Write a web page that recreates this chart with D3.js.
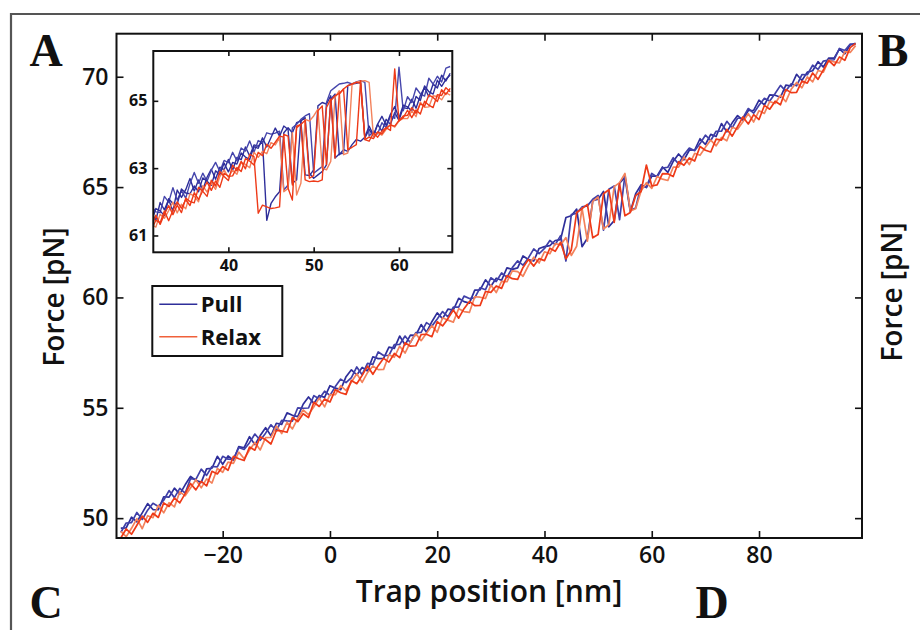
<!DOCTYPE html>
<html>
<head>
<meta charset="utf-8">
<script src="https://cdn.jsdelivr.net/npm/d3@7"></script>
<style>
  body { margin: 0; background: #fff; }
  svg { display: block; }
</style>
</head>
<body>
<script>
// trap positions (nm) for the main traces
const posMain = [
  -39, -38, -37, -36, -35, -34, -33, -32, -31, -30,
  -29, -28, -27, -26, -25, -24, -23, -22, -21, -20,
  -19, -18, -17, -16, -15, -14, -13, -12, -11, -10,
  -9, -8, -7, -6, -5, -4, -3, -2, -1, 0,
  1, 2, 3, 4, 5, 6, 7, 8, 9, 10,
  11, 12, 13, 14, 15, 16, 17, 18, 19, 20,
  21, 22, 23, 24, 25, 26, 27, 28, 29, 30,
  31, 32, 33, 34, 35, 36, 37, 38, 39, 40,
  41, 42, 43, 44, 45, 46, 47, 48, 49, 50,
  51, 52, 53, 54, 55, 56, 57, 58, 59, 60,
  61, 62, 63, 64, 65, 66, 67, 68, 69, 70,
  71, 72, 73, 74, 75, 76, 77, 78, 79, 80,
  81, 82, 83, 84, 85, 86, 87, 88, 89, 90,
  91, 92, 93, 94, 95, 96, 97, 98
];

// force (pN)
const pullA = [
  49.55, 49.56, 50.04, 49.83, 50.24, 50.66, 50.39, 50.38, 50.97, 50.95,
  51.36, 51.09, 51.51, 51.89, 51.71, 51.62, 52.23, 52.26, 52.80, 52.44,
  52.82, 52.63, 53.24, 53.19, 53.69, 53.33, 53.74, 54.10, 53.73, 54.30,
  54.25, 54.77, 54.66, 54.60, 55.16, 55.49, 55.20, 55.56, 55.47, 56.00,
  55.89, 55.82, 56.41, 56.72, 56.49, 56.83, 56.67, 57.31, 57.23, 57.24,
  57.75, 57.69, 58.25, 57.85, 58.29, 58.28, 58.77, 58.42, 58.90, 59.30,
  59.04, 59.47, 59.43, 59.96, 59.81, 59.74, 60.33, 60.34, 60.80, 60.51,
  60.87, 60.78, 61.34, 61.27, 61.34, 61.88, 61.72, 61.65, 62.22, 62.30,
  62.35, 62.58, 62.62, 63.62, 63.70, 64.00, 62.30, 62.68, 64.38, 64.45,
  64.80, 63.20, 63.48, 65.18, 65.45, 63.88, 64.70, 65.10, 64.98, 65.50,
  65.50, 65.91, 65.67, 66.16, 66.50, 66.23, 66.67, 66.68, 67.19, 66.93,
  67.39, 67.29, 67.88, 67.50, 67.91, 68.24, 68.03, 68.47, 68.48, 68.94,
  68.72, 69.18, 69.16, 69.07, 69.62, 69.58, 70.11, 69.83, 70.21, 70.27,
  70.68, 70.44, 70.85, 70.84, 71.26, 71.04, 71.45, 71.51
];
const pullB = [
  49.35, 49.78, 49.80, 50.26, 49.94, 50.36, 50.67, 50.53, 50.81, 51.25,
  50.93, 51.35, 51.13, 51.79, 51.76, 52.22, 51.94, 52.34, 52.32, 52.80,
  52.67, 52.66, 53.20, 53.11, 53.42, 53.81, 53.53, 53.85, 54.23, 53.97,
  54.43, 54.41, 54.40, 55.00, 54.98, 54.99, 55.55, 55.41, 55.75, 55.56,
  55.96, 56.30, 56.14, 56.37, 56.85, 56.50, 57.01, 56.97, 57.53, 57.37,
  57.37, 57.86, 57.87, 58.25, 57.95, 58.41, 58.42, 58.86, 58.70, 59.02,
  59.36, 59.12, 59.56, 59.56, 60.06, 59.95, 59.98, 60.44, 60.35, 60.89,
  60.72, 61.11, 60.91, 61.35, 61.66, 61.46, 61.79, 62.20, 61.98, 62.22,
  62.58, 62.39, 62.80, 61.65, 63.75, 63.82, 64.10, 64.15, 64.45, 64.62,
  63.05, 64.90, 65.05, 63.52, 65.55, 63.95, 64.05, 65.07, 65.00, 65.62,
  65.45, 65.86, 65.90, 66.33, 66.05, 66.46, 66.77, 66.65, 66.97, 67.35,
  67.11, 67.53, 67.53, 67.98, 67.68, 68.12, 68.13, 68.56, 68.35, 68.71,
  69.02, 68.90, 69.24, 69.61, 69.35, 69.68, 69.59, 70.10, 70.09, 70.52,
  70.33, 70.71, 70.75, 70.77, 71.28, 71.19, 71.48, 71.46
];
const relaxA = [
  49.10, 49.51, 49.27, 49.68, 50.09, 49.81, 50.22, 50.03, 50.69, 50.53,
  50.91, 50.69, 51.11, 51.57, 51.28, 51.67, 51.46, 52.12, 52.00, 52.34,
  52.17, 52.80, 52.69, 52.61, 53.22, 53.08, 53.69, 53.55, 53.36, 53.97,
  53.95, 53.89, 54.56, 54.37, 54.73, 54.56, 55.25, 55.06, 55.40, 55.26,
  55.82, 55.68, 55.61, 56.24, 56.09, 56.47, 56.89, 56.52, 56.91, 57.24,
  57.07, 57.46, 57.27, 57.95, 57.79, 57.81, 58.32, 58.33, 58.22, 58.90,
  58.71, 59.04, 59.43, 59.06, 59.49, 59.82, 59.63, 59.64, 60.27, 60.23,
  60.52, 60.41, 60.99, 60.85, 60.82, 61.36, 61.72, 61.42, 61.76, 61.67,
  62.23, 62.09, 62.50, 61.75, 62.15, 63.85, 64.02, 64.22, 62.70, 62.85,
  64.70, 64.88, 63.40, 65.15, 63.70, 63.85, 64.61, 64.80, 66.00, 65.05,
  65.10, 65.61, 65.60, 65.48, 66.15, 65.99, 66.32, 66.18, 66.84, 66.67,
  66.59, 67.17, 67.13, 67.62, 67.31, 67.74, 68.18, 67.86, 68.28, 68.06,
  68.70, 68.53, 68.89, 68.73, 69.42, 69.28, 69.29, 69.80, 69.71, 70.17,
  69.88, 70.31, 70.73, 70.50, 70.90, 70.74, 71.32, 71.51
];
const relaxB = [
  49.40, 49.16, 49.54, 49.98, 49.52, 50.11, 50.02, 50.58, 50.24, 50.70,
  50.51, 51.19, 51.01, 51.37, 51.74, 51.37, 51.78, 51.59, 52.25, 52.08,
  52.54, 52.48, 52.99, 52.69, 53.09, 53.43, 53.09, 53.65, 53.66, 54.17,
  53.83, 54.34, 54.04, 54.52, 54.90, 54.69, 55.05, 55.44, 55.04, 55.60,
  55.59, 56.00, 55.78, 56.17, 56.54, 56.15, 56.59, 56.89, 56.73, 56.74,
  57.40, 57.29, 57.79, 57.48, 57.97, 58.36, 58.04, 58.38, 58.72, 58.42,
  59.08, 58.97, 58.88, 59.49, 59.36, 59.32, 60.03, 60.01, 59.95, 60.56,
  60.22, 60.73, 60.71, 61.20, 61.17, 60.96, 61.44, 61.82, 61.56, 62.07,
  61.98, 62.44, 62.38, 62.71, 61.90, 62.32, 64.05, 62.55, 64.35, 64.55,
  63.10, 63.30, 65.02, 65.20, 65.62, 63.92, 64.02, 64.82, 65.20, 64.94,
  65.48, 65.36, 65.30, 65.90, 65.90, 66.36, 66.02, 66.53, 66.44, 66.80,
  67.13, 66.87, 67.25, 67.10, 67.71, 67.62, 67.96, 68.32, 67.95, 68.46,
  68.34, 68.88, 68.79, 69.16, 68.87, 69.43, 69.74, 69.50, 69.99, 69.77,
  70.28, 70.21, 70.75, 70.67, 70.63, 71.14, 71.10, 71.41
];

// trap positions (nm) for the inset traces
const posInset = [
  31, 31.5, 32, 32.5, 33, 33.5, 34, 34.5, 35, 35.5,
  36, 36.5, 37, 37.5, 38, 38.5, 39, 39.5, 40, 40.5,
  41, 41.5, 42, 42.5, 43, 43.5, 44, 44.5, 45, 45.5,
  46, 46.5, 47, 47.5, 48, 48.5, 49, 49.5, 50, 50.5,
  51, 51.5, 52, 52.5, 53, 53.5, 54, 54.5, 55, 55.5,
  56, 56.5, 57, 57.5, 58, 58.5, 59, 59.5, 60, 60.5,
  61, 61.5, 62, 62.5, 63, 63.5, 64, 64.5, 65, 65.5,
  66
];

// force (pN)
const insetPullA = [
  61.67, 61.45, 61.98, 61.76, 62.07, 61.72, 62.35, 62.13, 62.36, 62.69,
  62.32, 62.65, 62.35, 62.73, 62.97, 62.67, 63.03, 62.95, 63.26, 62.94,
  63.32, 63.25, 63.63, 63.36, 63.69, 63.65, 63.80, 61.45, 61.95, 62.15,
  62.30, 64.05, 64.20, 64.05, 64.35, 64.40, 62.80, 62.78, 62.95, 64.85,
  64.95, 64.90, 65.15, 63.30, 63.42, 63.45, 65.45, 65.50, 65.52, 65.55,
  63.90, 64.15, 63.95, 64.30, 64.10, 64.45, 64.30, 64.65, 64.42, 64.80,
  64.77, 65.05, 64.78, 65.16, 65.39, 65.12, 65.50, 65.38, 65.76, 65.59,
  65.82
];
const insetPullB = [
  61.87, 61.70, 61.68, 62.16, 61.99, 62.42, 62.05, 62.33, 62.11, 62.54,
  62.87, 62.55, 62.85, 62.61, 62.94, 63.17, 62.90, 63.23, 63.16, 63.47,
  63.22, 63.60, 63.51, 63.81, 63.47, 63.82, 63.75, 64.05, 64.01, 64.04,
  64.10, 62.35, 62.50, 64.20, 64.30, 64.45, 64.55, 64.62, 62.85, 62.95,
  63.05, 64.95, 65.30, 65.40, 65.50, 65.52, 65.55, 65.50, 65.56, 65.60,
  65.55, 63.95, 64.10, 64.02, 64.35, 64.20, 64.55, 64.48, 66.00, 64.70,
  65.12, 64.95, 65.38, 65.21, 65.14, 65.67, 65.50, 65.73, 65.56, 65.97,
  66.02
];
const insetPullC = [
  61.42, 61.80, 61.73, 61.59, 62.09, 61.95, 61.93, 62.38, 62.26, 62.24,
  62.47, 62.30, 62.71, 62.61, 62.49, 62.92, 62.80, 63.15, 62.89, 63.17,
  63.12, 63.45, 63.33, 63.26, 63.64, 63.59, 63.90, 63.63, 63.91, 64.19,
  63.95, 64.25, 64.15, 62.55, 62.65, 64.40, 64.50, 62.85, 62.70, 62.80,
  62.90, 63.10, 65.05, 65.20, 63.40, 63.55, 63.50, 63.70, 63.85, 63.80,
  63.92, 64.25, 63.98, 64.31, 64.54, 64.27, 64.60, 64.83, 64.49, 64.87,
  64.82, 64.70, 65.13, 65.01, 65.44, 65.27, 65.20, 65.61, 65.43, 65.64,
  65.77
];
const insetRelaxA = [
  61.27, 61.60, 61.33, 61.63, 61.89, 61.62, 61.90, 61.68, 62.11, 62.01,
  61.97, 62.43, 62.31, 62.16, 62.64, 62.47, 62.90, 62.75, 62.63, 63.09,
  62.92, 63.20, 62.98, 63.41, 63.34, 61.66, 61.90, 61.85, 61.80, 61.82,
  61.85, 64.00, 63.95, 62.50, 64.20, 64.30, 62.65, 62.60, 62.62, 62.60,
  62.65, 64.80, 65.05, 63.30, 65.20, 65.35, 65.45, 65.50, 65.55, 65.52,
  63.85, 63.80, 64.05, 63.92, 64.10, 64.20, 64.12, 65.95, 64.40, 64.55,
  64.57, 64.80, 64.63, 64.91, 64.84, 65.17, 65.10, 64.98, 65.33, 65.19,
  65.37
];
const insetRelaxB = [
  61.32, 61.25, 61.63, 61.51, 61.74, 61.99, 61.67, 61.93, 61.79, 62.24,
  62.17, 62.00, 62.48, 62.29, 62.57, 62.37, 62.75, 62.95, 62.73, 62.94,
  62.82, 63.17, 63.11, 63.01, 63.47, 63.32, 63.50, 63.43, 63.76, 63.69,
  63.90, 62.30, 62.40, 64.05, 62.20, 62.55, 64.45, 64.40, 64.55, 64.75,
  63.00, 62.95, 63.20, 65.10, 65.30, 63.40, 63.45, 65.50, 65.55, 65.58,
  65.60, 65.55, 63.95, 64.05, 63.98, 64.15, 64.30, 64.22, 64.40, 64.48,
  64.47, 64.70, 64.53, 64.96, 64.81, 64.82, 65.15, 65.13, 65.03, 65.24,
  65.17
];
const insetRelaxC = [
  61.17, 61.45, 61.38, 61.73, 61.44, 61.75, 62.00, 61.81, 62.06, 61.89,
  62.27, 62.07, 62.33, 62.59, 62.34, 62.62, 62.43, 62.85, 62.76, 62.77,
  63.02, 62.90, 63.28, 63.21, 63.09, 63.47, 63.37, 63.71, 63.59, 63.77,
  63.95, 63.92, 62.40, 62.05, 64.25, 64.30, 64.42, 62.70, 62.78, 64.70,
  64.85, 63.10, 65.00, 65.15, 65.22, 65.35, 63.55, 63.62, 63.70, 65.60,
  63.85, 63.92, 63.88, 64.08, 64.02, 64.20, 64.28, 64.25, 64.42, 64.50,
  64.72, 64.50, 64.73, 64.61, 64.99, 64.87, 64.80, 65.18, 65.16, 65.39,
  65.27
];

// ticks and labels
const mainXTicks = [-20, 0, 20, 40, 60, 80];
const mainYTicks = [50, 55, 60, 65, 70];
const insetXTicks = [40, 50, 60];
const insetYTicks = [61, 63, 65];
const seriesNames = ["Pull", "Relax"];
const panelLetters = ["A", "B", "C", "D"];

const pullColor = "#2e2e9a";
const relaxColor = "#ee3a18";
const relaxLight = "#f3825c";

const width = 920, height = 630;
const svg = d3.select("body").append("svg")
    .attr("width", width)
    .attr("height", height)
    .style("font-family", "'Open Sans', sans-serif");

// grey figure frame (cut off at right and bottom)
svg.append("path")
    .attr("d", `M11,${height}V14H${width}`)
    .attr("fill", "none")
    .attr("stroke", "#555")
    .attr("stroke-width", 2.2);

// ---- main panel ----
const m = { left: 116.5, right: 862, top: 33.7, bottom: 538 };
const x = d3.scaleLinear().domain([-39.8, 99.2]).range([m.left, m.right]);
const y = d3.scaleLinear().domain([49.1, 71.95]).range([m.bottom, m.top]);

svg.append("clipPath").attr("id", "clipMain")
  .append("rect")
    .attr("x", m.left).attr("y", m.top)
    .attr("width", m.right - m.left).attr("height", m.bottom - m.top);

const mainLine = d3.line()
    .x((d, i) => x(posMain[i]))
    .y(d => y(d));

const mainTraces = [
  { data: pullA, color: pullColor },
  { data: pullB, color: "#4040a8" },
  { data: relaxB, color: relaxLight },
  { data: relaxA, color: relaxColor }
];

svg.append("g")
    .attr("clip-path", "url(#clipMain)")
  .selectAll("path")
  .data(mainTraces)
  .join("path")
    .attr("fill", "none")
    .attr("stroke", d => d.color)
    .attr("stroke-width", 1.7)
    .attr("stroke-linejoin", "round")
    .attr("d", d => mainLine(d.data));

function styleAxis(g, size, weight) {
  g.select(".domain").remove();
  g.selectAll(".tick line").attr("stroke", "#111").attr("stroke-width", 1.6);
  g.selectAll(".tick text")
      .attr("fill", "#111")
      .style("font-family", "'Open Sans', sans-serif")
      .style("font-size", size + "px")
      .style("font-weight", weight);
}

svg.append("g")
    .attr("transform", `translate(0,${m.bottom})`)
    .call(d3.axisBottom(x).tickValues(mainXTicks).tickSize(-7).tickPadding(9))
    .call(g => styleAxis(g, 23, 600));
svg.append("g")
    .attr("transform", `translate(0,${m.top})`)
    .call(d3.axisTop(x).tickValues(mainXTicks).tickSize(-7).tickFormat(""))
    .call(g => styleAxis(g, 23, 600));
svg.append("g")
    .attr("transform", `translate(${m.left},0)`)
    .call(d3.axisLeft(y).tickValues(mainYTicks).tickSize(-7).tickPadding(8))
    .call(g => styleAxis(g, 23, 600));
svg.append("g")
    .attr("transform", `translate(${m.right},0)`)
    .call(d3.axisRight(y).tickValues(mainYTicks).tickSize(-7).tickFormat(""))
    .call(g => styleAxis(g, 23, 600));

svg.append("rect")
    .attr("x", m.left).attr("y", m.top)
    .attr("width", m.right - m.left).attr("height", m.bottom - m.top)
    .attr("fill", "none")
    .attr("stroke", "#111")
    .attr("stroke-width", 2);

// ---- inset ----
const n = { left: 153.3, right: 452.3, top: 51, bottom: 252.3 };
const xi = d3.scaleLinear().domain([31.2, 66.25]).range([n.left, n.right]);
const yi = d3.scaleLinear().domain([60.5, 66.48]).range([n.bottom, n.top]);

svg.append("rect")
    .attr("x", n.left).attr("y", n.top)
    .attr("width", n.right - n.left).attr("height", n.bottom - n.top)
    .attr("fill", "#fff");

svg.append("clipPath").attr("id", "clipInset")
  .append("rect")
    .attr("x", n.left).attr("y", n.top)
    .attr("width", n.right - n.left).attr("height", n.bottom - n.top);

const insetLine = d3.line()
    .x((d, i) => xi(posInset[i]))
    .y(d => yi(d));

const insetTraces = [
  { data: insetPullA, color: pullColor },
  { data: insetPullB, color: "#4646ac" },
  { data: insetPullC, color: pullColor },
  { data: insetRelaxB, color: relaxLight },
  { data: insetRelaxA, color: relaxColor },
  { data: insetRelaxC, color: relaxColor }
];

svg.append("g")
    .attr("clip-path", "url(#clipInset)")
  .selectAll("path")
  .data(insetTraces)
  .join("path")
    .attr("fill", "none")
    .attr("stroke", d => d.color)
    .attr("stroke-width", 1.4)
    .attr("stroke-linejoin", "round")
    .attr("d", d => insetLine(d.data));

const intFmt = d3.format("d");
svg.append("g")
    .attr("transform", `translate(0,${n.bottom})`)
    .call(d3.axisBottom(xi).tickValues(insetXTicks).tickFormat(intFmt).tickSize(-5).tickPadding(7))
    .call(g => styleAxis(g, 16, 700));
svg.append("g")
    .attr("transform", `translate(0,${n.top})`)
    .call(d3.axisTop(xi).tickValues(insetXTicks).tickSize(-5).tickFormat(""))
    .call(g => styleAxis(g, 16, 700));
svg.append("g")
    .attr("transform", `translate(${n.left},0)`)
    .call(d3.axisLeft(yi).tickValues(insetYTicks).tickFormat(intFmt).tickSize(-5).tickPadding(6))
    .call(g => styleAxis(g, 16, 700));
svg.append("g")
    .attr("transform", `translate(${n.right},0)`)
    .call(d3.axisRight(yi).tickValues(insetYTicks).tickSize(-5).tickFormat(""))
    .call(g => styleAxis(g, 16, 700));

svg.append("rect")
    .attr("x", n.left).attr("y", n.top)
    .attr("width", n.right - n.left).attr("height", n.bottom - n.top)
    .attr("fill", "none")
    .attr("stroke", "#111")
    .attr("stroke-width", 2);

// ---- legend ----
const legend = svg.append("g").attr("transform", "translate(152.3,286)");
legend.append("rect")
    .attr("width", 130).attr("height", 70)
    .attr("fill", "#fff")
    .attr("stroke", "#111")
    .attr("stroke-width", 2);
const legendRows = legend.selectAll("g.row")
  .data(seriesNames)
  .join("g")
    .attr("class", "row")
    .attr("transform", (d, i) => `translate(0,${18.3 + i * 32.4})`);
legendRows.append("line")
    .attr("x1", 7).attr("x2", 45)
    .attr("stroke", (d, i) => i === 0 ? pullColor : "#f0603a")
    .attr("stroke-width", 1.4);
legendRows.append("text")
    .attr("x", 48.5).attr("y", 8)
    .attr("fill", "#111")
    .style("font-size", "22px")
    .style("font-weight", 700)
    .text(d => d);

// ---- axis titles ----
svg.append("text")
    .attr("transform", "translate(64,297) rotate(-90)")
    .attr("text-anchor", "middle")
    .attr("fill", "#111")
    .style("font-size", "28px")
    .style("font-weight", 600)
    .text("Force [pN]");
svg.append("text")
    .attr("transform", "translate(902,292) rotate(-90)")
    .attr("text-anchor", "middle")
    .attr("fill", "#111")
    .style("font-size", "28px")
    .style("font-weight", 600)
    .text("Force [pN]");
svg.append("text")
    .attr("x", 489).attr("y", 602)
    .attr("text-anchor", "middle")
    .attr("fill", "#111")
    .style("font-size", "30px")
    .style("font-weight", 600)
    .text("Trap position [nm]");

// ---- panel letters ----
const letterPos = [[46, 66], [893, 66], [46, 618], [712, 618]];
svg.selectAll("text.letter")
  .data(panelLetters)
  .join("text")
    .attr("class", "letter")
    .attr("x", (d, i) => letterPos[i][0])
    .attr("y", (d, i) => letterPos[i][1])
    .attr("text-anchor", "middle")
    .attr("fill", "#111")
    .style("font-family", "'Liberation Serif', 'DejaVu Serif', serif")
    .style("font-size", "46px")
    .style("font-weight", 700)
    .text(d => d);
</script>
</body>
</html>
